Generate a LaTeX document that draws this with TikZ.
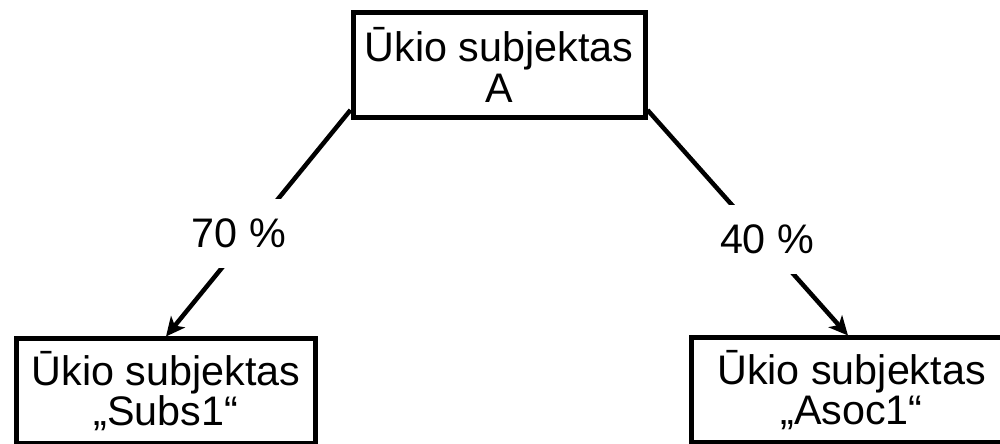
\documentclass[tikz,border=0pt]{standalone}
\usepackage{fontspec}
\setmainfont{Liberation Sans}
\usetikzlibrary{arrows.meta,calc}

\begin{document}
\begin{tikzpicture}[
  font=\fontsize{23.5}{23}\selectfont,
  box/.style={draw, line width=0.1cm, align=center, inner sep=2pt, minimum height=2.08cm},
  arr/.style={-{Stealth[length=3.8mm, width=3.6mm, inset=1mm]}, line width=0.09cm},
  share/.style={fill=white, inner xsep=0.1cm, inner ysep=0.4cm}]
\useasboundingbox (0,0) rectangle (20,8.86);
\node[box, minimum width=5.84cm, minimum height=2.1cm] (top) at (9.98,7.56) {Ūkio subjektas\\A};
\node[box, minimum width=5.97cm] (subs) at (3.32,1.04) {Ūkio subjektas\\„Subs1“};
\node[box, minimum width=6.4cm] (asoc) at (17.03,1.06) {Ūkio subjektas\\„Asoc1“};
\coordinate (topL) at ($(top.south west)+(0,0.2)$);
\coordinate (topR) at ($(top.south east)+(0,0.2)$);
\draw[arr] (topL) -- node[share, pos=0.546, xshift=-0.22cm]{70 \%} (subs.north);
\draw[arr] (topR) -- node[share, pos=0.574, xshift=0.09cm]{40 \%} ($(asoc.north)+(-0.07,0)$);
\end{tikzpicture}
\end{document}
